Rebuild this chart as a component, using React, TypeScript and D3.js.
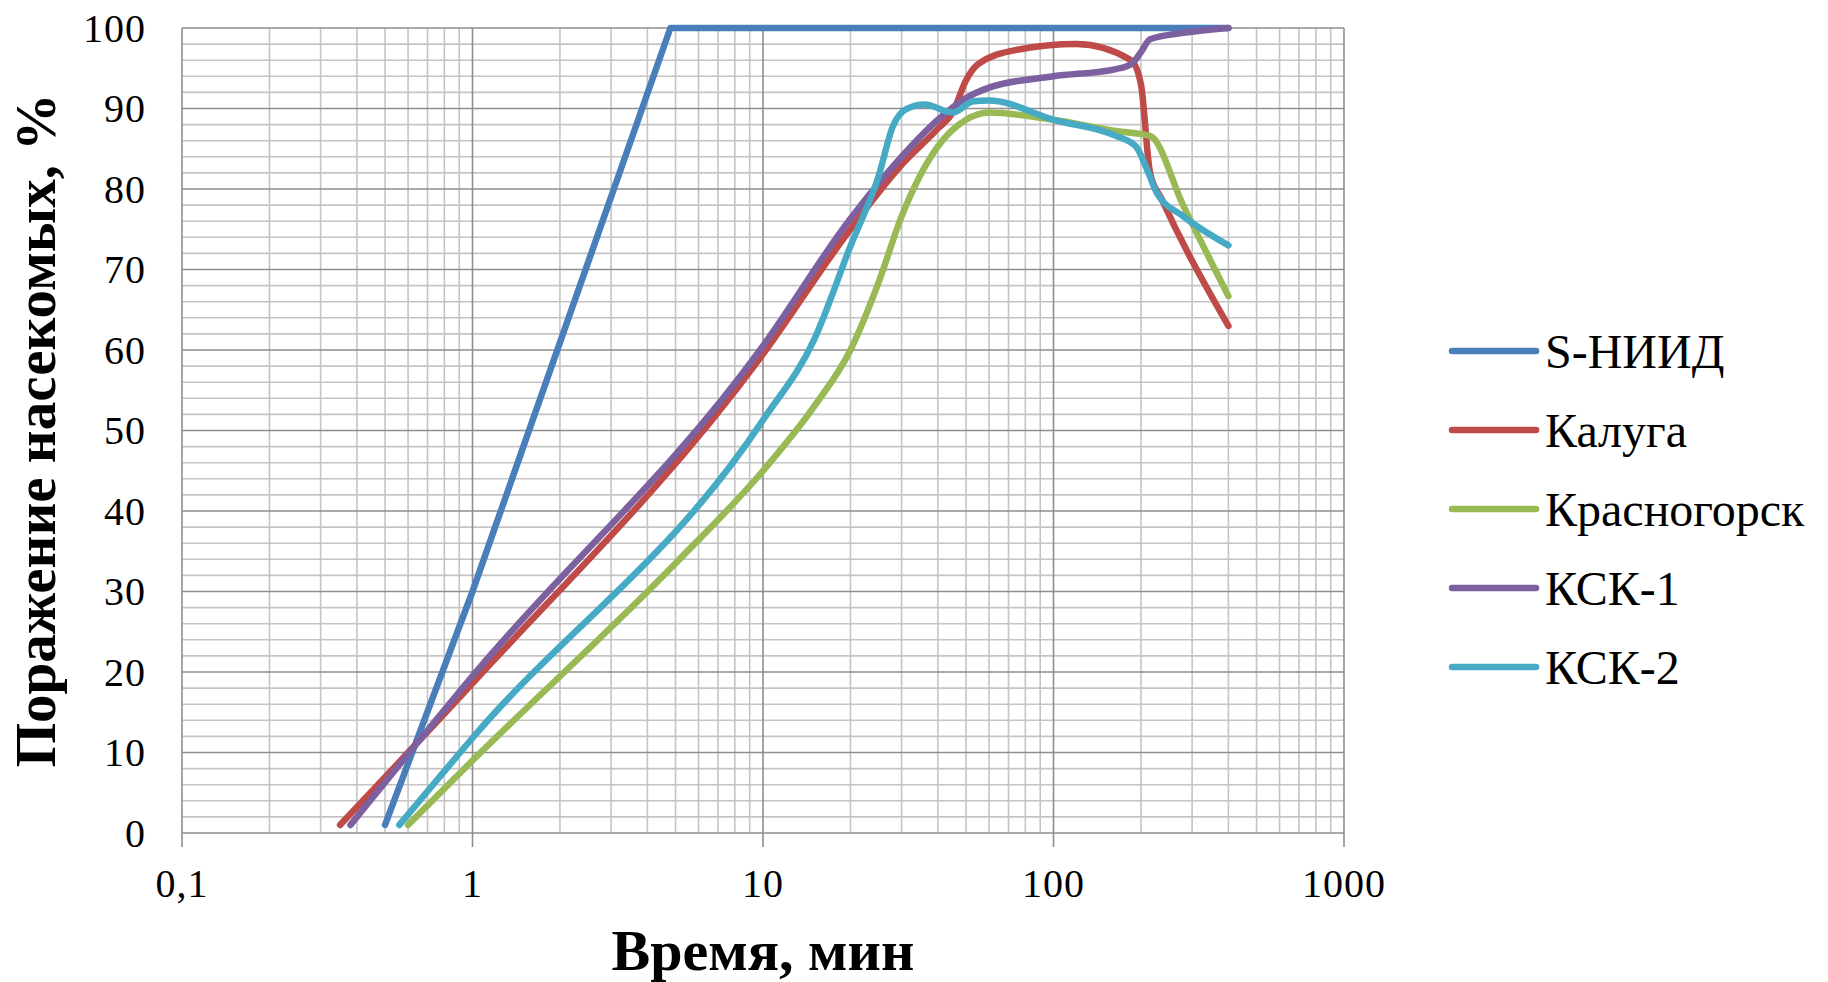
import React from 'react';
import * as d3 from 'd3';

// series data (time in minutes, share of affected insects in %)
const seriesNames = ['S-НИИД', 'Калуга', 'Красногорск', 'КСК-1', 'КСК-2'];
const seriesColors = ['#4a7ebb', '#be4b48', '#98b954', '#7d60a0', '#46aac5'];

const sniidTime = [0.5, 1, 4.8, 400];
const sniidValue = [1, 30, 100, 100];

const kalugaTime = [0.35, 1, 10, 20, 30, 40, 45, 50, 55, 75, 120, 185, 200, 215, 236, 400];
const kalugaValue = [1, 18.6, 59.5, 75, 83, 87.5, 89.5, 93.5, 95.5, 97.3, 98, 96, 93, 82, 78.7, 63];

const krasnogorskTime = [0.6, 1, 5, 10, 15, 20, 25, 30, 40, 50, 60, 100, 164, 215, 280, 400];
const krasnogorskValue = [1, 9, 33.5, 45, 53, 60, 68.4, 76.6, 85.3, 88.6, 89.5, 88.6, 87.2, 86.6, 77.9, 66.7];

const ksk1Time = [0.38, 1, 10, 20, 30, 40, 50, 60, 100, 164, 185, 200, 215, 280, 400];
const ksk1Value = [1, 19.5, 60.5, 76.3, 84, 88.6, 91.3, 92.6, 94, 94.9, 95.5, 97, 98.6, 99.4, 100];

const ksk2Time = [0.56, 1, 10, 15, 20, 25, 28, 31, 36, 45, 53, 60, 100, 164, 192, 210, 227, 280, 400];
const ksk2Value = [1, 11.8, 51.3, 61.3, 72.9, 81.6, 87.8, 89.9, 90.5, 89.5, 90.9, 91, 88.6, 86.6, 85.3, 82.4, 79.5, 76.6, 73];

const xTickValues = [0.1, 1, 10, 100, 1000];
const xTickLabels = ['0,1', '1', '10', '100', '1000'];
const yTickValues = [0, 10, 20, 30, 40, 50, 60, 70, 80, 90, 100];

const yTitle = 'Поражение насекомых, %';
const xTitle = 'Время, мин';

const W = 1828;
const H = 982;
const margin = { left: 182, right: 484, top: 28, bottom: 149 };
const serif = "'Liberation Serif', 'Times New Roman', serif";

export default function App() {
  const x = d3.scaleLog().domain([0.1, 1000]).range([margin.left, W - margin.right]);
  const y = d3.scaleLinear().domain([0, 100]).range([H - margin.bottom, margin.top]);

  const series = [
    { t: sniidTime, v: sniidValue, smooth: false },
    { t: kalugaTime, v: kalugaValue, smooth: true },
    { t: krasnogorskTime, v: krasnogorskValue, smooth: true },
    { t: ksk1Time, v: ksk1Value, smooth: true },
    { t: ksk2Time, v: ksk2Value, smooth: true },
  ];

  // minor grid: 2..9 in every decade, every 2 % on y
  const minorX: number[] = [];
  for (let d = 0.1; d < 1000; d *= 10) {
    for (let k = 2; k <= 9; k++) minorX.push(d * k);
  }
  const minorY = d3.range(0, 101, 2).filter((v) => v % 10 !== 0);

  const linePath = (t: number[], v: number[], smooth: boolean) => {
    const pts = t.map((tt, i) => [x(tt), y(v[i])] as [number, number]);
    return d3.line().curve(smooth ? d3.curveMonotoneX : d3.curveLinear)(pts) || '';
  };

  const x0 = x.range()[0];
  const x1 = x.range()[1];
  const y0 = y.range()[0];
  const y1 = y.range()[1];

  return (
    <svg width={W} height={H} style={{ position: 'absolute', left: 0, top: 0, background: '#fff', fontFamily: serif }}>
      {/* grid */}
      <g strokeWidth={1.6}>
        {minorY.map((v) => (
          <line key={'my' + v} x1={x0} x2={x1} y1={y(v)} y2={y(v)} stroke="#c4c4c4" />
        ))}
        {minorX.map((v, i) => (
          <line key={'mx' + i} x1={x(v)} x2={x(v)} y1={y0} y2={y1} stroke="#c4c4c4" />
        ))}
        {yTickValues.map((v) => (
          <line key={'gy' + v} x1={x0} x2={x1} y1={y(v)} y2={y(v)} stroke="#8e8e8e" />
        ))}
        {xTickValues.map((v) => (
          <line key={'gx' + v} x1={x(v)} x2={x(v)} y1={y0 + 14} y2={y1} stroke="#8e8e8e" />
        ))}
      </g>

      {/* tick labels */}
      <g fill="#000">
        {yTickValues.map((v) => (
          <text key={'ty' + v} x={146} y={y(v) + 13.5} textAnchor="end"
            style={{ fontFamily: serif, fontSize: 40, letterSpacing: 1 }}>{v}</text>
        ))}
        {xTickValues.map((v, i) => (
          <text key={'tx' + v} x={x(v)} y={897} textAnchor="middle"
            style={{ fontFamily: serif, fontSize: 40, letterSpacing: 1 }}>{xTickLabels[i]}</text>
        ))}
      </g>

      {/* data lines */}
      <g fill="none" strokeWidth={6.5} strokeLinecap="round" strokeLinejoin="round">
        {series.map((s, i) => (
          <path key={seriesNames[i]} d={linePath(s.t, s.v, s.smooth)} stroke={seriesColors[i]} />
        ))}
      </g>

      {/* axis titles */}
      <text x={0} y={0} transform={`translate(55, ${(y0 + y1) / 2}) rotate(-90)`} textAnchor="middle"
        style={{ fontFamily: serif, fontSize: 57, fontWeight: 'bold' }}>{yTitle}</text>
      <text x={(x0 + x1) / 2} y={970} textAnchor="middle"
        style={{ fontFamily: serif, fontSize: 58, fontWeight: 'bold' }}>{xTitle}</text>

      {/* legend */}
      <g>
        {seriesNames.map((name, i) => {
          const ly = 351 + i * 79;
          return (
            <g key={'lg' + name}>
              <line x1={1452} x2={1536} y1={ly} y2={ly} stroke={seriesColors[i]} strokeWidth={6.5} strokeLinecap="round" />
              <text x={1545} y={ly + 16.5} style={{ fontFamily: serif, fontSize: 48 }}>{name}</text>
            </g>
          );
        })}
      </g>
    </svg>
  );
}
